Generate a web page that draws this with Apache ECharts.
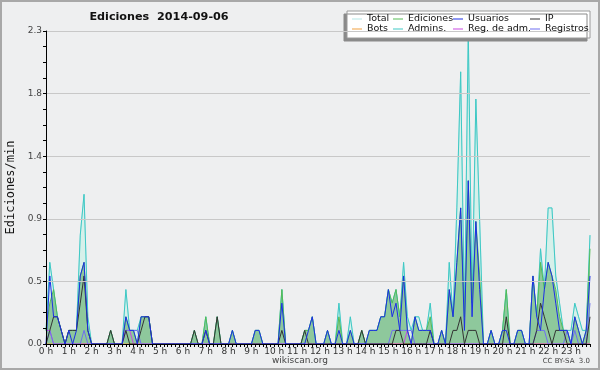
<!DOCTYPE html>
<html><head><meta charset="utf-8">
<script src="https://cdn.jsdelivr.net/npm/echarts@6/dist/echarts.min.js"></script>
<style>html,body{margin:0;padding:0;background:#eeeff0}#c{width:600px;height:370px}</style>
</head><body><div id="c"></div>
<script>
// 10-minute buckets, 0h00 .. 23h50 (index i => i*10 min)
const hourLabels = ['0 h','1 h','2 h','3 h','4 h','5 h','6 h','7 h','8 h','9 h','10 h','11 h','12 h','13 h','14 h','15 h','16 h','17 h','18 h','19 h','20 h','21 h','22 h','23 h'];
const yTickLabels = ['0.0','0.5','0.9','1.4','1.8','2.3'];

const total = [
0.1,0.6,0.4,0.2,0.1,0,0.1,0.1,0.1,0.8,1.1,0.2,
0,0,0,0,0,0.1,0,0,0,0.4,0.1,0.1,
0.1,0.2,0.2,0.2,0,0,0,0,0,0,0,0,
0,0,0,0.1,0,0,0.2,0,0,0.2,0,0,
0,0.1,0,0,0,0,0,0.1,0.1,0,0,0,
0,0,0.4,0,0,0,0,0,0.1,0.1,0.2,0,
0,0,0.1,0,0,0.3,0,0,0.2,0,0,0.1,
0,0.1,0.1,0.1,0.2,0.2,0.4,0.3,0.4,0.2,0.6,0.2,
0.1,0.2,0.2,0.1,0.1,0.3,0,0,0.1,0,0.6,0.2,
1.0,2.0,0.2,2.3,0.3,1.8,0.9,0,0,0.1,0,0,
0.1,0.4,0,0,0.1,0.1,0,0,0.5,0.2,0.7,0.4,
1.0,1.0,0.5,0.3,0.1,0.1,0.1,0.3,0.2,0.1,0.1,0.8];

const admins = [
0.1,0.6,0.4,0.2,0.1,0,0.1,0.1,0.1,0.8,1.1,0.2,
0,0,0,0,0,0.1,0,0,0,0.4,0.1,0.1,
0.1,0.2,0.2,0.2,0,0,0,0,0,0,0,0,
0,0,0,0.1,0,0,0.2,0,0,0.2,0,0,
0,0.1,0,0,0,0,0,0.1,0.1,0,0,0,
0,0,0.4,0,0,0,0,0,0.1,0.1,0.2,0,
0,0,0.1,0,0,0.3,0,0,0.2,0,0,0.1,
0,0.1,0.1,0.1,0.2,0.2,0.4,0.3,0.4,0.2,0.6,0.2,
0.1,0.2,0.2,0.1,0.1,0.3,0,0,0.1,0,0.6,0.2,
1.0,2.0,0.2,2.3,0.3,1.8,0.9,0,0,0.1,0,0,
0.1,0.4,0,0,0.1,0.1,0,0,0.5,0.2,0.7,0.4,
1.0,1.0,0.5,0.3,0.1,0.1,0.1,0.3,0.2,0.1,0.1,0.8];

const ediciones = [
0.1,0.3,0.4,0.2,0.1,0,0.1,0.1,0.1,0.5,0.6,0.1,
0,0,0,0,0,0.1,0,0,0,0.2,0.1,0.1,
0,0.2,0.2,0.2,0,0,0,0,0,0,0,0,
0,0,0,0.1,0,0,0.2,0,0,0.2,0,0,
0,0.1,0,0,0,0,0,0.1,0.1,0,0,0,
0,0,0.4,0,0,0,0,0,0.1,0.1,0.2,0,
0,0,0.1,0,0,0.2,0,0,0.1,0,0,0.1,
0,0.1,0.1,0.1,0.2,0.2,0.4,0.3,0.4,0.2,0.5,0.1,
0,0.2,0.1,0.1,0.1,0.2,0,0,0.1,0,0.4,0.2,
0.6,1.0,0.2,1.2,0.3,0.9,0.5,0,0,0.1,0,0,
0.1,0.4,0,0,0.1,0.1,0,0,0.5,0.2,0.6,0.4,
0.6,0.5,0.4,0.2,0.1,0.1,0,0.2,0.1,0,0.1,0.7];

const usuarios = [
0,0.5,0.2,0.2,0.1,0,0.1,0,0.1,0.5,0.6,0.1,
0,0,0,0,0,0,0,0,0,0.2,0.1,0.1,
0,0.2,0.2,0.2,0,0,0,0,0,0,0,0,
0,0,0,0,0,0,0.1,0,0,0,0,0,
0,0.1,0,0,0,0,0,0.1,0.1,0,0,0,
0,0,0.3,0,0,0,0,0,0,0.1,0.2,0,
0,0,0.1,0,0,0.1,0,0,0.1,0,0,0,
0,0.1,0.1,0.1,0.2,0.2,0.4,0.2,0.3,0.1,0.5,0.1,
0,0.2,0.1,0.1,0.1,0.1,0,0,0.1,0,0.4,0.2,
0.6,1.0,0.1,1.2,0.2,0.9,0.4,0,0,0.1,0,0,
0.1,0.1,0,0,0.1,0.1,0,0,0.5,0.2,0.1,0.4,
0.6,0.5,0.3,0.1,0.1,0.1,0,0.2,0.1,0,0.1,0.5];

const ip = [
0,0.1,0.2,0.2,0.1,0,0.1,0.1,0.1,0.3,0.5,0.1,
0,0,0,0,0,0.1,0,0,0,0.1,0,0,
0,0.1,0.2,0.2,0,0,0,0,0,0,0,0,
0,0,0,0.1,0,0,0.1,0,0,0.2,0,0,
0,0,0,0,0,0,0,0,0,0,0,0,
0,0,0.1,0,0,0,0,0,0.1,0,0,0,
0,0,0,0,0,0,0,0,0,0,0,0.1,
0,0,0,0,0,0,0,0,0.1,0.1,0,0,
0,0,0,0,0,0.1,0,0,0,0,0,0.1,
0.1,0.2,0,0.1,0.1,0.1,0,0,0,0,0,0,
0,0.2,0,0,0,0,0,0,0,0.1,0.3,0.2,
0.1,0,0.1,0.1,0.1,0,0,0,0,0,0,0.2];

const bots = [
0,0,0,0,0,0,0,0,0,0,0,0,
0,0,0,0,0,0,0,0,0,0,0,0,
0,0,0,0,0,0,0,0,0,0,0,0,
0,0,0,0,0,0,0,0,0,0,0,0,
0,0,0,0,0,0,0,0,0,0,0,0,
0,0,0,0,0,0,0,0,0,0,0,0,
0,0,0,0,0,0,0,0,0,0,0,0,
0,0,0,0,0,0,0,0,0,0,0,0,
0,0,0,0,0,0,0,0,0,0,0,0,
0,0,0,0,0,0,0,0,0,0,0,0,
0,0,0,0,0,0,0,0,0,0,0,0,
0,0,0,0,0,0,0,0,0,0,0,0];

const regAdm = [
0.1,0.1,0,0,0,0,0,0,0,0,0,0,
0,0,0,0,0,0,0,0,0,0.1,0.1,0,
0,0,0,0,0,0,0,0,0,0,0,0,
0,0,0,0,0,0,0,0,0,0,0,0,
0,0,0,0,0,0,0,0,0,0,0,0,
0,0,0,0,0,0,0,0,0,0,0,0,
0,0,0,0,0,0,0,0,0,0,0,0,
0,0,0,0,0,0,0,0,0,0,0,0.1,
0,0,0,0,0,0,0,0,0,0,0,0,
0,0,0,0,0,0,0,0,0,0,0,0,
0,0,0,0,0,0,0,0,0,0,0,0,
0,0,0,0,0,0,0,0,0,0,0,0];

const registros = [
0,0.1,0,0,0,0,0,0,0,0,0.1,0,
0,0,0,0,0,0,0,0,0,0.1,0.1,0.1,
0.1,0,0,0,0,0,0,0,0,0,0,0,
0,0,0,0,0,0,0,0,0,0,0,0,
0,0,0,0,0,0,0,0,0,0,0,0,
0,0,0,0,0,0,0,0,0,0,0,0,
0,0,0,0,0,0,0,0,0,0,0,0,
0,0,0,0,0,0,0,0.1,0.1,0.1,0.1,0.1,
0.1,0,0,0,0,0,0,0,0,0,0,0,
0,0,0,0,0,0,0,0,0,0,0,0,
0,0,0,0,0,0,0,0,0,0.1,0.1,0.1,
0,0,0,0,0,0.1,0,0.1,0,0,0,0.3];

const colors = {
  total:'#b4e6e6', ediciones:'#55bb55', usuarios:'#1c2ee6', ip:'#333333',
  bots:'#f0a040', admins:'#3ec8c4', regAdm:'#c848e0', registros:'#6e6ef0'
};

function pts(arr){ return arr.map((v,i)=>[i,v]); }

const chart = echarts.init(document.getElementById('c'), null, {renderer:'canvas'});
const FONT = 'DejaVu Sans';

function mkLine(name, arr, color, extra){
  return Object.assign({
    name, type:'line', data: pts(arr), showSymbol:false, symbol:'none',
    lineStyle:{color, width:1}, itemStyle:{color}, animation:false, z:2
  }, extra||{});
}

const legendCols = [352, 393, 453, 530];
const legendRows = [14, 24];
const legendItems = [
  ['Total',0,0],['Ediciones',1,0],['Usuarios',2,0],['IP',3,0],
  ['Bots',0,1],['Admins.',1,1],['Reg. de adm.',2,1],['Registros',3,1]
];

chart.setOption({
  backgroundColor:'#eeeff0',
  animation:false,
  title:{
    text:'Ediciones  2014-09-06', left:154, top:7, textAlign:'center',
    textStyle:{fontFamily:FONT, fontSize:11.2, fontWeight:'bold', color:'#111'}
  },
  graphic:[
    {type:'rect', shape:{x:1,y:1,width:598,height:368}, style:{fill:'none', stroke:'#a8a8a8', lineWidth:2}, z:-1, silent:true},
    {type:'rect', shape:{x:347,y:11,width:243,height:27}, style:{fill:'#ffffff', stroke:'#9a9a9a', lineWidth:1, shadowColor:'#8a8a8a', shadowOffsetX:-3, shadowOffsetY:3, shadowBlur:0}, z:5, silent:true},
    {type:'text', left:'center', top:356, style:{text:'wikiscan.org', fontFamily:FONT, fontSize:9, fill:'#444'}, z:6},
    {type:'text', right:10, top:358, style:{text:'CC BY-SA  3.0', fontFamily:FONT, fontSize:7, fill:'#444'}, z:6}
  ],
  legend: legendItems.map(([name,c,r])=>({
    data:[name], left:legendCols[c], top:legendRows[r], icon:'rect',
    itemWidth:10, itemHeight:1, padding:0, z:10, selectedMode:false,
    textStyle:{fontFamily:FONT, fontSize:9.5, color:'#111', padding:[0,0,0,0]}
  })),
  grid:{left:46, right:10, top:31, bottom:26, containLabel:false, outerBoundsMode:'none'},
  xAxis:{
    type:'value', min:0, max:143, interval:6, z:10,
    axisLine:{show:true, lineStyle:{color:'#000', width:1}},
    axisTick:{show:true, length:3, lineStyle:{color:'#000'}},
    minorTick:{show:true, splitNumber:6, length:3, lineStyle:{color:'#000'}},
    splitLine:{show:false},
    axisLabel:{show:true, showMaxLabel:false, margin:3, fontFamily:FONT, fontSize:9, color:'#333',
      formatter:(v)=>{ const k=Math.round(v/6); return (v%6===0 && hourLabels[k]!==undefined)? hourLabels[k] : ''; }}
  },
  yAxis:{
    type:'value', min:0, max:2.3, interval:0.46, z:10,
    name:'Ediciones/min', nameLocation:'middle', nameGap:28, nameRotate:90,
    nameTextStyle:{fontFamily:'DejaVu Sans Mono', fontSize:12, color:'#111'},
    axisLine:{show:true, lineStyle:{color:'#000', width:1}},
    axisTick:{show:true, length:3, lineStyle:{color:'#000'}},
    minorTick:{show:true, splitNumber:4, length:3, lineStyle:{color:'#000'}},
    splitLine:{show:true, lineStyle:{color:'#c8c8c8', width:1}},
    axisLabel:{margin:4, fontFamily:FONT, fontSize:9, color:'#444',
      formatter:(v)=>{ const k=Math.round(v/0.46); return yTickLabels[k]!==undefined? yTickLabels[k] : ''; }}
  },
  series:[
    mkLine('Total', total, colors.total, {areaStyle:{color:'#d6f0ea', opacity:1}}),
    mkLine('Admins.', admins, colors.admins),
    mkLine('Ediciones', ediciones, colors.ediciones, {areaStyle:{color:'#8ec89c', opacity:1}}),
    mkLine('Bots', bots, colors.bots),
    mkLine('Reg. de adm.', regAdm, colors.regAdm),
    mkLine('Registros', registros, colors.registros),
    mkLine('IP', ip, colors.ip),
    mkLine('Usuarios', usuarios, colors.usuarios)
  ]
});
</script></body></html>
